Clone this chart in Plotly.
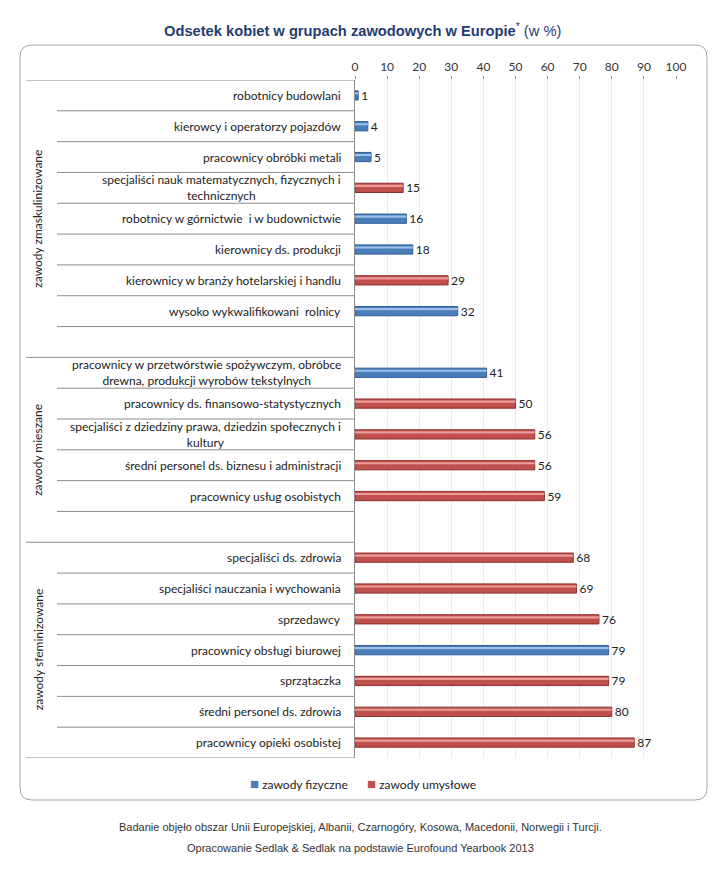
import plotly.graph_objects as go

# rows top to bottom; "" / None marks the empty spacer rows between groups
categories = [
    "robotnicy budowlani",
    "kierowcy i operatorzy pojazdów",
    "pracownicy obróbki metali",
    "specjaliści nauk matematycznych, fizycznych i<br>technicznych",
    "robotnicy w górnictwie  i w budownictwie",
    "kierownicy ds. produkcji",
    "kierownicy w branży hotelarskiej i handlu",
    "wysoko wykwalifikowani  rolnicy",
    "",
    "pracownicy w przetwórstwie spożywczym, obróbce<br>drewna, produkcji wyrobów tekstylnych",
    "pracownicy ds. finansowo-statystycznych",
    "specjaliści z dziedziny prawa, dziedzin społecznych i<br>kultury",
    "średni personel ds. biznesu i administracji",
    "pracownicy usług osobistych",
    "",
    "specjaliści ds. zdrowia",
    "specjaliści nauczania i wychowania",
    "sprzedawcy",
    "pracownicy obsługi biurowej",
    "sprzątaczka",
    "średni personel ds. zdrowia",
    "pracownicy opieki osobistej",
]
values = [1, 4, 5, 15, 16, 18, 29, 32, None,
          41, 50, 56, 56, 59, None,
          68, 69, 76, 79, 79, 80, 87]
kinds = ["f", "f", "f", "u", "f", "f", "u", "f", "",
         "f", "u", "u", "u", "u", "",
         "u", "u", "u", "f", "u", "u", "u"]

groups = ["zawody zmaskulinizowane", "zawody mieszane", "zawody sfeminizowane"]
group_rows = [9, 6, 7]

series = {"f": "zawody fizyczne", "u": "zawody umysłowe"}
colors = {"f": "#4a7ebb", "u": "#c0504d"}
edges = {"f": "#2f5d93", "u": "#8f2f2c"}
shine = {"f": "#9cc0ea", "u": "#ea9c9a"}

W, H = 720, 869
L, R, T, B = 355, 676, 80, 758


def px(x):
    return (x - L) / (R - L)


def py(y):
    return 1 - (y - T) / (B - T)


fig = go.Figure()
rows = list(range(len(categories)))
for k in ["f", "u"]:
    idx = [i for i in rows if kinds[i] == k]
    xs = [values[i] for i in idx]
    fig.add_trace(go.Bar(
        x=xs, y=idx, orientation="h", name=series[k], width=0.3,
        marker=dict(color=colors[k], line=dict(color=edges[k], width=1)),
        text=[str(v) for v in xs],
        textposition="outside", constraintext="none",
        textfont=dict(family="Lato", size=12, color="#222"),
        cliponaxis=False, showlegend=False,
    ))
    fig.add_trace(go.Bar(
        x=xs, y=idx, orientation="h", width=0.07, offset=-0.1,
        marker=dict(color=shine[k], line=dict(width=0)),
        showlegend=False, hoverinfo="skip",
    ))

# category labels on the left
for i, c in enumerate(categories):
    if c:
        fig.add_annotation(x=px(343), y=i, xref="paper", yref="y", text=c,
                           xanchor="right", align="center", showarrow=False,
                           font=dict(family="Lato", size=12, color="#222"))

# row separators, longer ones at group edges
edges_rows = []
start = 0
for n in group_rows:
    edges_rows.append(start)
    start += n
edges_rows.append(start)
for b in range(len(categories) + 1):
    x0 = px(26) if b in edges_rows else px(57)
    fig.add_shape(type="line", xref="paper", yref="y", x0=x0, x1=0,
                  y0=b - 0.5, y1=b - 0.5, line=dict(color="#8c8c8c", width=1))

# group names
start = 0
for g, n in zip(groups, group_rows):
    fig.add_annotation(x=px(38), y=start + (n - 1) / 2, xref="paper", yref="y",
                       xanchor="center", yanchor="middle",
                       text=g, textangle=-90, showarrow=False,
                       font=dict(family="Lato", size=12, color="#222"))
    start += n

# legend drawn as text
for k, xl in zip(["f", "u"], [248, 365]):
    fig.add_annotation(x=px(xl), y=py(783), xref="paper", yref="paper",
                       xanchor="left", yanchor="middle", showarrow=False,
                       text=f"<span style='color:{colors[k]};font-size:15px'>■</span> {series[k]}",
                       font=dict(family="Lato", size=12, color="#222"))

# rounded frame
x0, x1, y0, y1, r = px(20), px(707), py(45), py(800), 12
rx, ry = r / (R - L), r / (B - T)
frame = (f"M {x0+rx},{y0} L {x1-rx},{y0} Q {x1},{y0} {x1},{y0-ry} "
         f"L {x1},{y1+ry} Q {x1},{y1} {x1-rx},{y1} L {x0+rx},{y1} "
         f"Q {x0},{y1} {x0},{y1+ry} L {x0},{y0-ry} Q {x0},{y0} {x0+rx},{y0} Z")
fig.add_shape(type="path", xref="paper", yref="paper", path=frame,
              line=dict(color="#a6a6a6", width=1), layer="below")

fig.add_annotation(x=px(362), y=py(30), xref="paper", yref="paper",
                   xanchor="center", yanchor="middle",
                   text="<b>Odsetek kobiet w grupach zawodowych w Europie</b><sup>*</sup> (w %)",
                   showarrow=False,
                   font=dict(family="Liberation Sans", size=14.7, color="#1f3d73"))
fig.add_annotation(x=px(360), y=py(827), xref="paper", yref="paper",
                   xanchor="center", yanchor="middle",
                   text="Badanie objęło obszar Unii Europejskiej, Albanii, Czarnogóry, Kosowa, Macedonii, Norwegii i Turcji.",
                   showarrow=False,
                   font=dict(family="Liberation Sans", size=11, color="#333"))
fig.add_annotation(x=px(360), y=py(848), xref="paper", yref="paper",
                   xanchor="center", yanchor="middle",
                   text="Opracowanie Sedlak & Sedlak na podstawie Eurofound Yearbook 2013",
                   showarrow=False,
                   font=dict(family="Liberation Sans", size=11, color="#333"))

fig.update_layout(
    width=W, height=H,
    margin=dict(l=L, r=W - R, t=T, b=H - B),
    paper_bgcolor="white", plot_bgcolor="white",
    barmode="overlay",
    showlegend=False,
    xaxis=dict(side="top", range=[0, 100], dtick=10, showgrid=True,
               gridcolor="#ebebeb", zeroline=False, showline=False,
               ticks="outside", ticklen=3, tickcolor="#8c8c8c",
               tickfont=dict(family="Lato", size=12, color="#333")),
    yaxis=dict(range=[len(categories) - 0.5, -0.5], showticklabels=False,
               showgrid=False, zeroline=False, showline=True,
               linecolor="#8c8c8c", linewidth=1),
)

fig.write_html("out.html", config={"displayModeBar": False},
               post_script="document.body.style.margin='0';document.body.style.overflow='hidden';")
